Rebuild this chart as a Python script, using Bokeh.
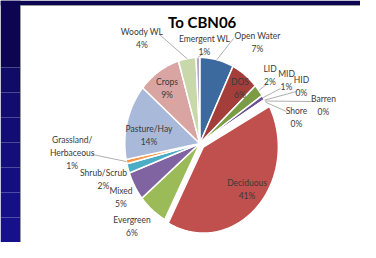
import math
from bokeh.plotting import figure
from bokeh.models import Range1d
from bokeh.core.properties import value
from bokeh.embed import file_html
from bokeh.resources import INLINE

# ---- data ----
title_text = "To CBN06"
categories = ["Open Water", "DOS", "LID", "MID", "HID", "Barren", "Shore",
              "Deciduous", "Evergreen", "Mixed", "Shrub/Scrub",
              "Grassland/\nHerbaceous", "Pasture/Hay", "Crops", "Woody WL",
              "Emergent WL"]
shares = [7.3, 6.0, 2.3, 0.9, 0.2, 0.2, 0.3,
          40.6, 6.3, 5.4, 1.8,
          0.8, 14.2, 9.2, 3.8,
          0.8]
pct_labels = ["7%", "6%", "2%", "1%", "0%", "0%", "0%",
              "41%", "6%", "5%", "2%",
              "1%", "14%", "9%", "4%", "1%"]

# ---- styles / layout ----
colors = ["#3d6a9e", "#a33e3b", "#7b9c45", "#6a4f93", "#3f9bb5", "#9aa3ad", "#e8873a",
          "#c0504d", "#9bbb59", "#8064a2", "#4bacc6",
          "#f79646", "#a9b9d9", "#d9a5a3", "#c9d8ab", "#b6a6cb"]
explode_px = [0, 0, 0, 0, 0, 0, 0, 5, 0, 0, 0, 0, 0, 0, 0, 0]
# label centres (picture pixels)
label_pos = [(257, 42), (239.5, 88), (269.5, 75), (286, 80), (301, 85.5), (323, 105), (296, 116.7),
             (246.5, 188.7), (131.5, 225.5), (120.5, 196.5), (103, 179),
             (71.7, 152.3), (148.5, 135), (166.5, 87.5), (141.5, 38), (204, 44.5)]
# leader line end near label (picture pixels), None = no leader
leader_end = [(233, 38), None, (267, 83), (280, 88), (296, 91), (311, 101), (286, 111),
              None, None, None, None,
              (92, 154), None, None, (159, 34), (205, 51)]

W, H = 360, 242
CX, CY = 199.3, 143.0   # pie centre in pixels
RX, RY = 75.0, 86.0     # pie radii in pixels (slightly stretched slide)

def pg(ax, ay):
    """picture pixel -> data coords"""
    return (ax - CX) / RX, (CY - ay) / RY

p = figure(width=W, height=H, output_backend="svg", toolbar_location=None,
           x_range=Range1d(-CX / RX, (W - CX) / RX),
           y_range=Range1d(-(H - CY) / RY, CY / RY),
           min_border=0, outline_line_color=None, background_fill_color="white",
           border_fill_color="white")
p.axis.visible = False
p.grid.visible = False

# slide background: navy strips on the top and left
xl, ytop = pg(0, 0)
xs_edge, y5 = pg(20, 5)
xr, ybot = pg(W, H)
_, ymid = pg(0, 67)
p.quad(left=[xl], right=[xr], top=[ytop], bottom=[y5], fill_color="#0c0652", line_color=None)
p.quad(left=[xl], right=[xs_edge], top=[ytop], bottom=[ymid], fill_color="#0c0652", line_color=None)
navy_grad = ["#100b66", "#110c6e", "#120d74", "#130e7a", "#140f80", "#151085", "#16118a"]
n = len(navy_grad)
tops = [ymid + (ybot - ymid) * i / n for i in range(n)]
bots = [ymid + (ybot - ymid) * (i + 1) / n for i in range(n)]
p.quad(left=[xl] * n, right=[xs_edge] * n, top=tops, bottom=bots, fill_color=navy_grad, line_color=None)
p.segment(x0=[xs_edge, xs_edge], y0=[y5, y5], x1=[xs_edge, xr], y1=[ybot, y5],
          line_color="#9a9a9a", line_width=1)

# pie slices
total = sum(shares)
xs, ys, mids = [], [], []
cum = 0.0
for v, ex in zip(shares, explode_px):
    t0 = cum / total * 2 * math.pi
    cum += v
    t1 = cum / total * 2 * math.pi
    tm = (t0 + t1) / 2
    mids.append(tm)
    ox = ex * math.sin(tm) / RX
    oy = ex * math.cos(tm) / RY
    steps = max(3, int((t1 - t0) / 0.02))
    px_ = [ox]
    py_ = [oy]
    for k in range(steps + 1):
        t = t0 + (t1 - t0) * k / steps
        px_.append(ox + math.sin(t))
        py_.append(oy + math.cos(t))
    xs.append(px_)
    ys.append(py_)

p.patches(xs, ys, fill_color=colors, line_color="white", line_width=1.5, line_join="miter")

# leader lines
lx0, ly0, lx1, ly1 = [], [], [], []
for tm, le in zip(mids, leader_end):
    if le is None:
        continue
    ex_, ey_ = pg(*le)
    lx0.append(math.sin(tm))
    ly0.append(math.cos(tm))
    lx1.append(ex_)
    ly1.append(ey_)
p.segment(x0=lx0, y0=ly0, x1=lx1, y1=ly1, line_color="#8c8c8c", line_width=0.7)

# labels
tx, ty, tt = [], [], []
for c, pc, pos in zip(categories, pct_labels, label_pos):
    a, b = pg(*pos)
    tx.append(a)
    ty.append(b)
    tt.append(c + "\n" + pc)
p.text(x=tx, y=ty, text=tt, text_font=value("Lato"), text_font_size="8.5px",
       text_color="#3a3a3a", text_align="center", text_baseline="middle",
       text_line_height=1.3)

# title
ttx, tty = pg(201.7, 21.7)
p.text(x=[ttx], y=[tty], text=[title_text], text_font=value("Lato"), text_font_size="15px",
       text_font_style="bold", text_color="#000000", text_align="center",
       text_baseline="middle")

open("out.html", "w").write(file_html(p, INLINE))
